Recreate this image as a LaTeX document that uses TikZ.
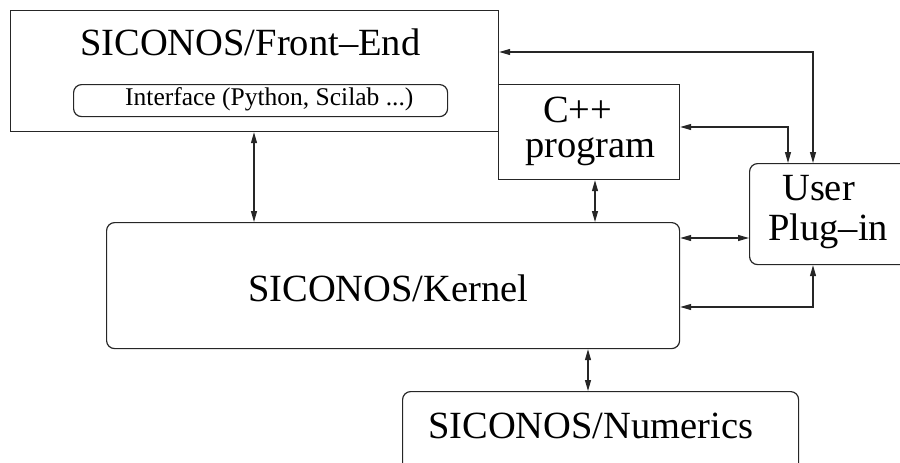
\documentclass[tikz,border=0pt]{standalone}
\usepackage{fontspec}
\setmainfont{Liberation Serif}
\usetikzlibrary{arrows.meta}
\tikzset{
  boxsq/.style={draw=black!85, line width=1.2pt, rectangle, inner sep=0pt, anchor=north west},
  boxrd/.style={boxsq, rounded corners=8pt},
  big/.style={inner sep=0pt, anchor=base west, font=\fontsize{38.5}{40}\selectfont},
  small/.style={inner sep=0pt, anchor=base west, font=\fontsize{25.5}{27}\selectfont},
  arr/.style={draw=black!85, line width=1.2pt, {Triangle[length=11pt,width=6pt]}-{Triangle[length=11pt,width=6pt]}}
}
\begin{document}
\begin{tikzpicture}[x=1pt,y=-1pt]
\useasboundingbox (0,0) rectangle (900,463);
\clip (0,0) rectangle (900,463);
% boxes
\node[boxsq, minimum width=488pt, minimum height=121pt] (fe) at (10,10) {};
\node[boxrd, minimum width=374pt, minimum height=32pt] (iface) at (73,84) {};
\node[boxsq, minimum width=181pt, minimum height=95pt] (cpp) at (498,84) {};
\node[boxrd, minimum width=170pt, minimum height=101pt] (user) at (749,163) {};
\node[boxrd, minimum width=573pt, minimum height=126pt] (kern) at (106,222) {};
\node[boxrd, minimum width=396pt, minimum height=100pt] (num) at (402,391) {};
% texts
\node[big] (fet) at (80,55) {SICONOS/Front–End};
\node[small] (ift) at (125,105) {Interface (Python, Scilab ...)};
\node[big] (cppa) at (543,122) {C++};
\node[big] (cppb) at (525,157) {program};
\node[big] (usra) at (782,200) {User};
\node[big] (usrb) at (768,240) {Plug–in};
\node[big] (kernt) at (248,301) {SICONOS/Kernel};
\node[big] (numt) at (428,438) {SICONOS/Numerics};
% helper coordinates
\coordinate (xa) at (254,0);
\coordinate (xb) at (595,0);
\coordinate (xc) at (588,0);
\coordinate (xd) at (788,0);
\coordinate (xe) at (813,0);
\coordinate (ya) at (0,52);
\coordinate (yb) at (0,127);
\coordinate (yc) at (0,238);
\coordinate (yd) at (0,307);
% connectors
\draw[arr] (xa |- fe.south) -- (xa |- kern.north);
\draw[arr] (xb |- cpp.south) -- (xb |- kern.north);
\draw[arr] (xc |- kern.south) -- (xc |- num.north);
\draw[arr] (fe.east |- ya) -- (xe |- ya) -- (xe |- user.north);
\draw[arr] (cpp.east |- yb) -- (xd |- yb) -- (xd |- user.north);
\draw[arr] (kern.east |- yc) -- (user.west |- yc);
\draw[arr] (kern.east |- yd) -- (xe |- yd) -- (xe |- user.south);
\end{tikzpicture}
\end{document}
